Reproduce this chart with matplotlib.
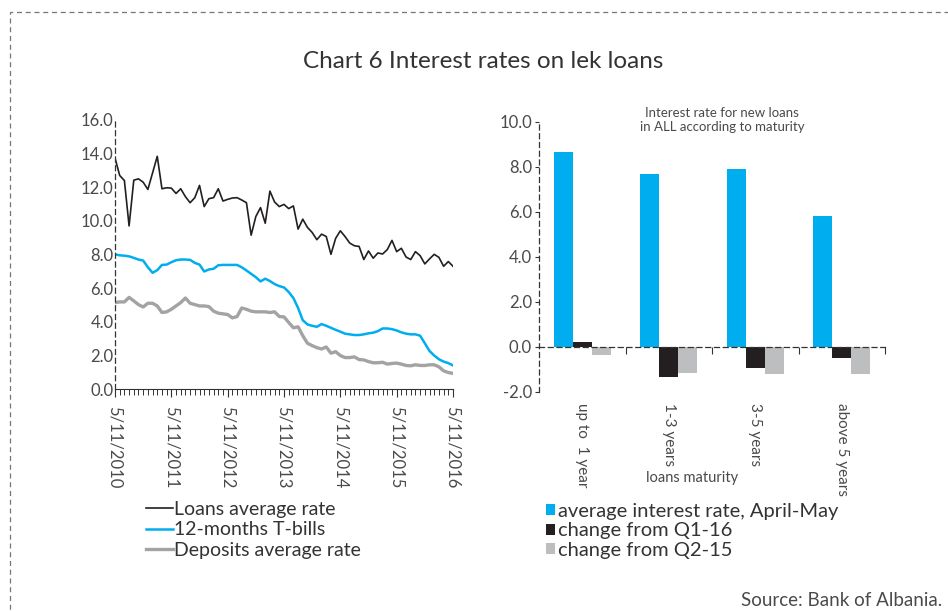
import matplotlib
matplotlib.use("Agg")
import matplotlib.pyplot as plt
import numpy as np
from matplotlib.patches import Rectangle
import matplotlib.transforms as mtransforms

plt.rcParams['font.family'] = ['Lato', 'DejaVu Sans']

# ---------------- data ----------------
year_labels = ["5/11/2010", "5/11/2011", "5/11/2012", "5/11/2013",
               "5/11/2014", "5/11/2015", "5/11/2016"]

loans_rate = [13.74, 12.70, 12.40, 9.70, 12.42, 12.50, 12.30, 11.87, 12.85, 13.84,
              11.91, 11.97, 11.95, 11.63, 11.91, 11.44, 11.08, 11.38, 12.11, 10.85,
              11.32, 11.38, 11.91, 11.18, 11.28, 11.36, 11.38, 11.24, 11.08, 9.15,
              10.26, 10.79, 9.86, 11.77, 11.12, 10.85, 10.98, 10.73, 10.89, 9.51,
              10.10, 9.61, 9.31, 8.88, 9.21, 9.07, 8.01, 8.96, 9.41, 9.07,
              8.68, 8.52, 8.48, 7.70, 8.21, 7.78, 8.09, 8.03, 8.29, 8.84,
              8.17, 8.37, 7.85, 7.70, 8.17, 7.93, 7.44, 7.74, 8.01, 7.83,
              7.30, 7.58, 7.30]

tbills_rate = [8.01, 7.95, 7.93, 7.89, 7.80, 7.70, 7.64, 7.24, 6.91, 7.07,
               7.38, 7.40, 7.54, 7.66, 7.70, 7.70, 7.68, 7.50, 7.40, 6.99,
               7.11, 7.15, 7.36, 7.38, 7.38, 7.38, 7.38, 7.24, 7.05, 6.85,
               6.65, 6.40, 6.56, 6.42, 6.24, 6.12, 6.04, 5.77, 5.41, 4.82,
               4.09, 3.84, 3.76, 3.70, 3.86, 3.76, 3.64, 3.52, 3.41, 3.29,
               3.25, 3.21, 3.21, 3.25, 3.31, 3.35, 3.44, 3.60, 3.60, 3.56,
               3.48, 3.37, 3.29, 3.25, 3.25, 3.17, 2.72, 2.26, 1.99, 1.77,
               1.63, 1.54, 1.40]

deposits_rate = [5.14, 5.18, 5.18, 5.45, 5.24, 5.02, 4.88, 5.10, 5.10, 4.94,
                 4.55, 4.59, 4.74, 4.94, 5.14, 5.41, 5.10, 5.02, 4.94, 4.94,
                 4.90, 4.63, 4.51, 4.47, 4.43, 4.23, 4.31, 4.82, 4.74, 4.63,
                 4.59, 4.59, 4.59, 4.55, 4.59, 4.31, 4.29, 3.96, 3.64, 3.70,
                 3.17, 2.72, 2.58, 2.46, 2.38, 2.50, 2.13, 2.22, 1.99, 1.87,
                 1.87, 1.91, 1.75, 1.73, 1.63, 1.56, 1.56, 1.59, 1.48, 1.52,
                 1.54, 1.48, 1.40, 1.38, 1.44, 1.40, 1.40, 1.44, 1.44, 1.32,
                 1.08, 0.98, 0.93]

line_labels = ["Loans average rate", "12-months T-bills", "Deposits average rate"]

maturities = ["up to  1 year", "1-3 years", "3-5 years", "above 5 years"]
avg_rate = [8.64, 7.66, 7.88, 5.83]
chg_q1_16 = [0.21, -1.35, -0.95, -0.50]
chg_q2_15 = [-0.36, -1.17, -1.21, -1.21]
bar_labels = ["average interest rate, April-May", "change from Q1-16", "change from Q2-15"]

left_yticks = [0.0, 2.0, 4.0, 6.0, 8.0, 10.0, 12.0, 14.0, 16.0]
right_yticks = [-2.0, 0.0, 2.0, 4.0, 6.0, 8.0, 10.0]

# ---------------- style ----------------
BLUE = "#00AEEF"
BLACK = "#231F20"
GRAY_LINE = "#A3A3A3"
GRAY_BAR = "#BCBEC0"
TXT = "#4a4a4a"

W, H = 948, 611
fig = plt.figure(figsize=(W / 100, H / 100), dpi=100)

def fx(px):
    return px / W

def fy(py):
    return 1 - py / H

# dashed frame
frame = Rectangle((fx(10), fy(700)), fx(1000), fy(12) - fy(700), transform=fig.transFigure,
                  fill=False, edgecolor="#777777", linestyle=(0, (4, 3)), linewidth=0.9)
fig.patches.append(frame)

fig.text(fx(483), fy(62), "Chart 6 Interest rates on lek loans", ha="center", va="center",
         fontsize=17.5, color="#333333")

# ---------------- left chart ----------------
axL = fig.add_axes([fx(115), fy(389), fx(453) - fx(115), fy(120) - fy(389)])
n = len(loans_rate)
x = np.arange(n)
l1, = axL.plot(x, loans_rate, color=BLACK, lw=1.2)
l2, = axL.plot(x, tbills_rate, color=BLUE, lw=1.8)
l3, = axL.plot(x, deposits_rate, color=GRAY_LINE, lw=2.4)
axL.set_xlim(0, n - 1)
axL.set_ylim(0, 16)
axL.set_yticks(left_yticks)
axL.set_yticklabels([f"{v:.1f}" for v in left_yticks])
axL.set_xticks(np.arange(0, n, 12))
axL.set_xticklabels(year_labels, rotation=270, ha="center", va="top")
axL.set_xticks(np.arange(0, n, 1), minor=True)
axL.tick_params(axis="x", which="major", length=6, width=0.8, color="#333333",
                labelsize=12, labelcolor=TXT, pad=6)
axL.tick_params(axis="x", which="minor", length=4, width=0.7, color="#333333")
axL.tick_params(axis="y", length=0, labelsize=12, labelcolor=TXT, pad=1)
for s in ["top", "right"]:
    axL.spines[s].set_visible(False)
axL.spines["left"].set_linestyle((0, (4, 3)))
axL.spines["left"].set_color("#333333")
axL.spines["left"].set_linewidth(0.9)
axL.spines["bottom"].set_color("#333333")
axL.spines["bottom"].set_linewidth(0.8)
axL.patch.set_alpha(0)

fig.legend([l1, l2, l3], line_labels, loc="upper left",
           bbox_to_anchor=(fx(146), fy(501)), frameon=False, fontsize=14,
           handlelength=1.4, handletextpad=0.05, labelspacing=0.17,
           borderaxespad=0, borderpad=0, labelcolor="#333333")

# ---------------- right chart ----------------
axR = fig.add_axes([fx(539), fy(392), fx(885) - fx(539), fy(121.7) - fy(392)])
xc = np.arange(len(maturities))
bw = 0.22
b1 = axR.bar(xc - bw, avg_rate, bw, color=BLUE)
b2 = axR.bar(xc, chg_q1_16, bw, color=BLACK)
b3 = axR.bar(xc + bw, chg_q2_15, bw, color=GRAY_BAR)
axR.set_xlim(-0.5, len(maturities) - 0.5)
axR.set_ylim(-2, 10)
axR.set_yticks(right_yticks)
axR.set_yticklabels([f"{v:.1f}" for v in right_yticks])
axR.tick_params(axis="y", length=3, width=0.8, color="#333333", labelsize=12,
                labelcolor=TXT, pad=2)
axR.set_xticks(np.arange(0.5, len(maturities), 1))
axR.set_xticklabels([])
axR.tick_params(axis="x", length=5, width=0.8, color="#333333", direction="out")
for s in ["top", "right"]:
    axR.spines[s].set_visible(False)
axR.spines["bottom"].set_position(("data", 0))
for s in ["left", "bottom"]:
    axR.spines[s].set_linestyle((0, (4, 3)))
    axR.spines[s].set_color("#333333")
    axR.spines[s].set_linewidth(0.9)
axR.patch.set_alpha(0)

trans = mtransforms.blended_transform_factory(axR.transData, axR.transAxes)
for xi, lab in zip(xc, maturities):
    axR.text(xi, -0.04, lab, transform=trans, rotation=270, ha="center", va="top",
             fontsize=11, color=TXT)

fig.text(fx(692), fy(478), "loans maturity", ha="center", va="center",
         fontsize=10.5, color=TXT)
fig.text(fx(722), fy(120), "Interest rate for new loans\nin ALL according to maturity",
         ha="center", va="center", fontsize=9.5, color=TXT, linespacing=1.25)

fig.legend([b1, b2, b3], bar_labels, loc="upper left",
           bbox_to_anchor=(fx(546), fy(503)), frameon=False, fontsize=14.5,
           handlelength=0.45, handleheight=0.45, handletextpad=0.15, labelspacing=0.12,
           borderaxespad=0, borderpad=0, labelcolor="#333333")

fig.text(fx(942), fy(601), "Source: Bank of Albania.", ha="right", va="center",
         fontsize=13.5, color=TXT)

fig.savefig("out.png", dpi=100)
